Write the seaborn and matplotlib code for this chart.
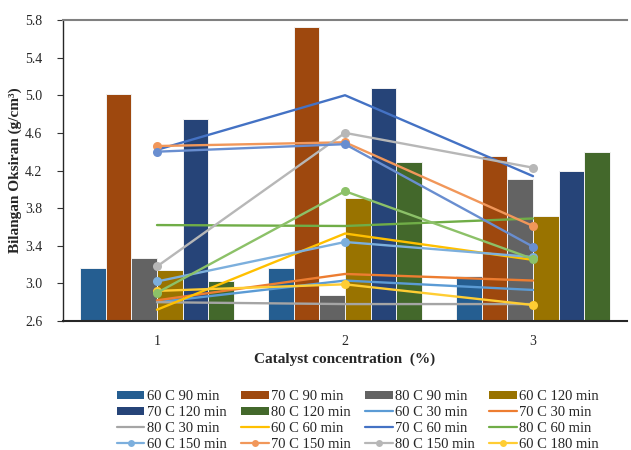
import numpy as np
import pandas as pd
import matplotlib
matplotlib.use("Agg")
import matplotlib.pyplot as plt
from matplotlib.patches import Patch
from matplotlib.lines import Line2D
import seaborn as sns

# ---------------- data ----------------
categories = ["1", "2", "3"]

bar_names = ["60 C 90 min", "70 C 90 min", "80 C 90 min",
             "60 C 120 min", "70 C 120 min", "80 C 120 min"]
bar_60c_90 = [3.16, 3.16, 3.08]
bar_70c_90 = [5.01, 5.73, 4.35]
bar_80c_90 = [3.27, 2.88, 4.11]
bar_60c_120 = [3.14, 3.91, 3.72]
bar_70c_120 = [4.75, 5.08, 4.20]
bar_80c_120 = [3.03, 4.29, 4.40]
bar_values = [bar_60c_90, bar_70c_90, bar_80c_90, bar_60c_120, bar_70c_120, bar_80c_120]
bar_colors = ["#255E91", "#9E480E", "#636363", "#997300", "#264478", "#43682B"]

line_names = ["60 C 30 min", "70 C 30 min", "80 C 30 min",
              "60 C 60 min", "70 C 60 min", "80 C 60 min",
              "60 C 150 min", "70 C 150 min", "80 C 150 min",
              "60 C 180 min", "70 C 180 min", "80 C 180 min"]
line_60c_30 = [2.80, 3.03, 2.93]
line_70c_30 = [2.82, 3.10, 3.03]
line_80c_30 = [2.80, 2.78, 2.78]
line_60c_60 = [2.72, 3.53, 3.25]
line_70c_60 = [4.42, 5.00, 4.14]
line_80c_60 = [3.62, 3.61, 3.69]
line_60c_150 = [3.02, 3.44, 3.28]
line_70c_150 = [4.46, 4.50, 3.61]
line_80c_150 = [3.18, 4.60, 4.23]
line_60c_180 = [2.92, 2.99, 2.77]
line_70c_180 = [4.40, 4.48, 3.39]
line_80c_180 = [2.90, 3.98, 3.26]
line_values = [line_60c_30, line_70c_30, line_80c_30, line_60c_60, line_70c_60,
               line_80c_60, line_60c_150, line_70c_150, line_80c_150,
               line_60c_180, line_70c_180, line_80c_180]
line_colors = ["#5B9BD5", "#ED7D31", "#A5A5A5", "#FFC000", "#4472C4", "#70AD47",
               "#7CAFDD", "#F1975A", "#B7B7B7", "#FFCD33", "#698ED0", "#8CC168"]
line_markers = [None, None, None, None, None, None, "o", "o", "o", "o", "o", "o"]
# series shown in the legend (the original legend is truncated after 16 entries)
line_in_legend = [True] * 10 + [False, False]

yticks = [2.6, 3.0, 3.4, 3.8, 4.2, 4.6, 5.0, 5.4, 5.8]

# ---------------- plot ----------------
sns.set_style("white")
plt.rcParams["font.family"] = ["Liberation Serif", "DejaVu Serif"]

fig = plt.figure(figsize=(6.31, 4.5), dpi=100)
ax = fig.add_axes([63 / 631, 1 - 321 / 450, (627 - 63) / 631, (321 - 20) / 450])

rows = []
for name, vals in zip(bar_names, bar_values):
    for c, v in zip(categories, vals):
        rows.append({"cat": c, "series": name, "value": v})
df = pd.DataFrame(rows)

sns.barplot(data=df, x="cat", y="value", hue="series", order=categories,
            hue_order=bar_names, palette=bar_colors, width=0.82, ax=ax,
            legend=False, edgecolor="#f2f2f2", linewidth=0.7, saturation=1)

positions = np.arange(len(categories))
handles = [Patch(facecolor=c, edgecolor="none") for c in bar_colors]
labels = list(bar_names)
for name, vals, col, mk, show in zip(line_names, line_values, line_colors,
                                     line_markers, line_in_legend):
    sns.lineplot(x=positions, y=vals, ax=ax, color=col, linewidth=1.7,
                 marker=mk, markersize=6.5, markeredgewidth=0, legend=False,
                 zorder=3)
    if show:
        handles.append(Line2D([0], [0], color=col, lw=1.6, marker=mk,
                              markersize=5, markeredgewidth=0))
        labels.append(name)

ax.set_xlim(-0.5, 2.5)
ax.set_ylim(2.6, 5.8)
ax.set_yticks(yticks)
ax.set_yticklabels([f"{t:.1f}" for t in yticks])
ax.set_xticks(positions)
ax.set_xticklabels(categories)

ax.tick_params(axis="y", which="major", direction="out", length=4, width=0.8,
               color="#333333", labelsize=10, pad=11, left=True)
ax.tick_params(axis="x", length=0, labelsize=10, pad=10)

for s in ["left", "bottom"]:
    ax.spines[s].set_color("#262626")
ax.spines["left"].set_linewidth(1.0)
ax.spines["bottom"].set_linewidth(1.5)
ax.spines["top"].set_color("#808080")
ax.spines["top"].set_linewidth(1.5)
ax.spines["right"].set_visible(False)

ax.set_xlabel("Catalyst concentration  (%)", fontsize=11, fontweight="bold",
              labelpad=3)
ax.set_ylabel("Bilangan Oksiran (g/cm³)", fontsize=11, fontweight="bold",
              labelpad=2)

# reorder handles to fill rows (4 columns, row-major like Excel)
ncol = 4
n = len(handles)
nrows = int(np.ceil(n / ncol))
order = []
for c in range(ncol):
    for r in range(nrows):
        idx = r * ncol + c
        if idx < n:
            order.append(idx)
leg = fig.legend([handles[i] for i in order], [labels[i] for i in order],
                 loc="center", bbox_to_anchor=(0.567, 0.066), ncol=ncol,
                 frameon=False, fontsize=10.5, handlelength=1.9,
                 handleheight=0.5, handletextpad=0.15, columnspacing=1.0,
                 labelspacing=0.2, borderpad=0.0)

fig.savefig("out.png", dpi=100)
